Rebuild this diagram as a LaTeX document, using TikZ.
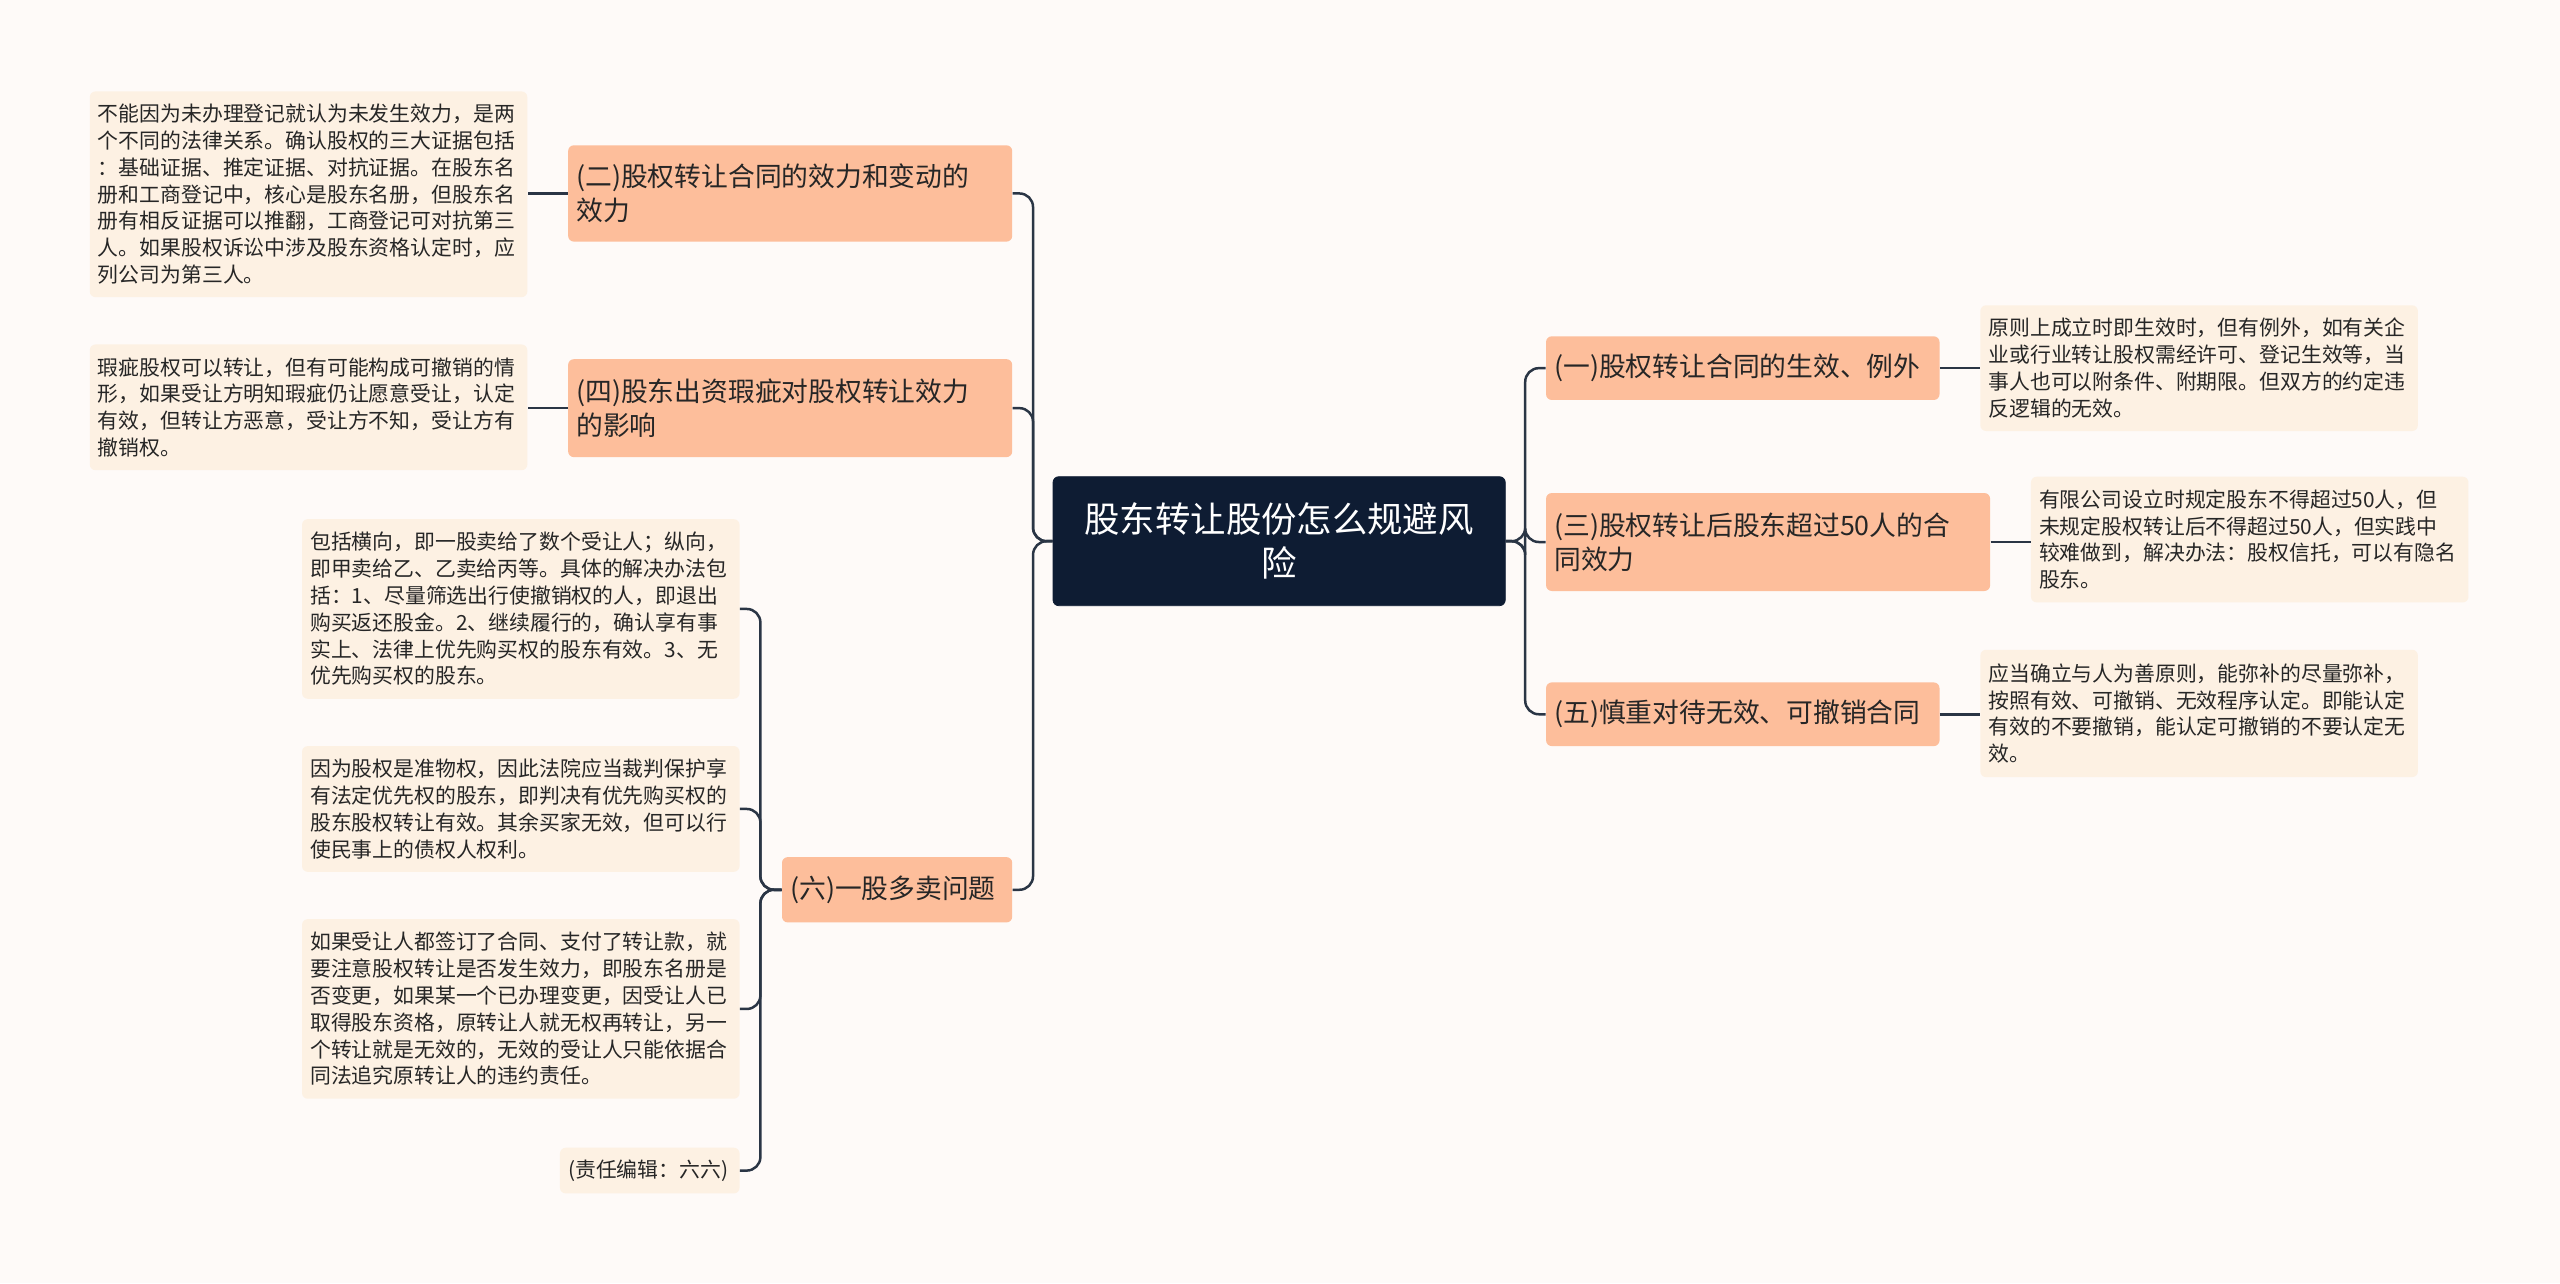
\documentclass[tikz,border=0pt]{standalone}
\usepackage{fontspec}
\setmainfont{Noto Sans CJK SC}
\definecolor{bg}{HTML}{FEFAF8}
\definecolor{rootc}{HTML}{0E1C33}
\definecolor{br}{HTML}{FDBE9B}
\definecolor{lf}{HTML}{FDF1E3}
\definecolor{ln}{HTML}{2A3545}
\tikzset{
 rootbox/.style={fill=rootc,draw=rootc,rounded corners=3pt,text=white,font=\fontsize{18.5}{23}\selectfont,align=center,inner sep=0.15cm},
 brbox/.style={fill=br,rounded corners=3pt,text=black!85,font=\fontsize{14}{18}\selectfont,align=left,inner sep=0.15cm},
 lfbox/.style={fill=lf,rounded corners=3pt,text=black!85,font=\fontsize{10.9}{14}\selectfont,align=left,inner sep=0.15cm},
 conn/.style={draw=ln,line width=1.3pt,rounded corners=0.25cm}
}
\newcommand\bx[7]{\pgfmathsetmacro\bw{(#5-#3)*0.03}\pgfmathsetmacro\bh{(#6-#4)*0.03}\pgfmathsetmacro\tw{(#5-#3)*0.03-0.3}\node[#2,minimum width=\bw cm,minimum height=\bh cm,text width=\tw cm] (#1) at ({(#3+#5)/2*0.03},{-(#4+#6)/2*0.03}) {#7};}
\begin{document}
\begin{tikzpicture}
\fill[bg] (0,0) rectangle (47.04,-23.58);
\useasboundingbox (0,0) rectangle (47.04,-23.58);
\bx{root}{rootbox,align=center}{645}{292}{922}{371}{股东转让股份怎么规避风\\险}
\bx{b2}{brbox}{348}{89}{620}{148}{(二)股权转让合同的效力和变动的\\效力}
\bx{b4}{brbox}{348}{220}{620}{280}{(四)股东出资瑕疵对股权转让效力\\的影响}
\bx{b6}{brbox}{479}{525}{620}{565}{(六)一股多卖问题}
\bx{r1}{brbox}{947}{206}{1188}{245}{(一)股权转让合同的生效、例外}
\bx{r3}{brbox}{947}{302}{1219}{362}{(三)股权转让后股东超过50人的合\\同效力}
\bx{r5}{brbox}{947}{418}{1188}{457}{(五)慎重对待无效、可撤销合同}
\bx{l2}{lfbox}{55}{56}{323}{182}{不能因为未办理登记就认为未发生效力，是两\\个不同的法律关系。确认股权的三大证据包括\\：基础证据、推定证据、对抗证据。在股东名\\册和工商登记中，核心是股东名册，但股东名\\册有相反证据可以推翻，工商登记可对抗第三\\人。如果股权诉讼中涉及股东资格认定时，应\\列公司为第三人。}
\bx{l4}{lfbox}{55}{211}{323}{288}{瑕疵股权可以转让，但有可能构成可撤销的情\\形，如果受让方明知瑕疵仍让愿意受让，认定\\有效，但转让方恶意，受让方不知，受让方有\\撤销权。}
\bx{l6a}{lfbox}{185}{318}{453}{428}{包括横向，即一股卖给了数个受让人；纵向，\\即甲卖给乙、乙卖给丙等。具体的解决办法包\\括：1、尽量筛选出行使撤销权的人，即退出\\购买返还股金。2、继续履行的，确认享有事\\实上、法律上优先购买权的股东有效。3、无\\优先购买权的股东。}
\bx{l6b}{lfbox}{185}{457}{453}{534}{因为股权是准物权，因此法院应当裁判保护享\\有法定优先权的股东，即判决有优先购买权的\\股东股权转让有效。其余买家无效，但可以行\\使民事上的债权人权利。}
\bx{l6c}{lfbox}{185}{563}{453}{673}{如果受让人都签订了合同、支付了转让款，就\\要注意股权转让是否发生效力，即股东名册是\\否变更，如果某一个已办理变更，因受让人已\\取得股东资格，原转让人就无权再转让，另一\\个转让就是无效的，无效的受让人只能依据合\\同法追究原转让人的违约责任。}
\bx{l6d}{lfbox}{343}{703}{453}{731}{(责任编辑：六六)}
\bx{rl1}{lfbox}{1213}{187}{1481}{264}{原则上成立时即生效时，但有例外，如有关企\\业或行业转让股权需经许可、登记生效等，当\\事人也可以附条件、附期限。但双方的约定违\\反逻辑的无效。}
\bx{rl3}{lfbox}{1244}{292}{1512}{369}{有限公司设立时规定股东不得超过50人，但\\未规定股权转让后不得超过50人，但实践中\\较难做到，解决办法：股权信托，可以有隐名\\股东。}
\bx{rl5}{lfbox}{1213}{398}{1481}{476}{应当确立与人为善原则，能弥补的尽量弥补，\\按照有效、可撤销、无效程序认定。即能认定\\有效的不要撤销，能认定可撤销的不要认定无\\效。}
\foreach \b in {b2,b4,b6} \draw[conn] (root.west) -- ++(-0.36,0) |- (\b.east);
\foreach \b in {r1,r3,r5} \draw[conn] (root.east) -- ++(0.36,0) |- (\b.west);
\foreach \l in {l6a,l6b,l6c,l6d} \draw[conn] (b6.west) -- ++(-0.39,0) |- (\l.east);
\draw[conn] (b2.west) -- (l2.east|-b2.west);
\draw[conn] (b4.west) -- (l4.east|-b4.west);
\draw[conn] (r1.east) -- (rl1.west|-r1.east);
\draw[conn] (r3.east) -- (rl3.west|-r3.east);
\draw[conn] (r5.east) -- (rl5.west|-r5.east);
\end{tikzpicture}
\end{document}
